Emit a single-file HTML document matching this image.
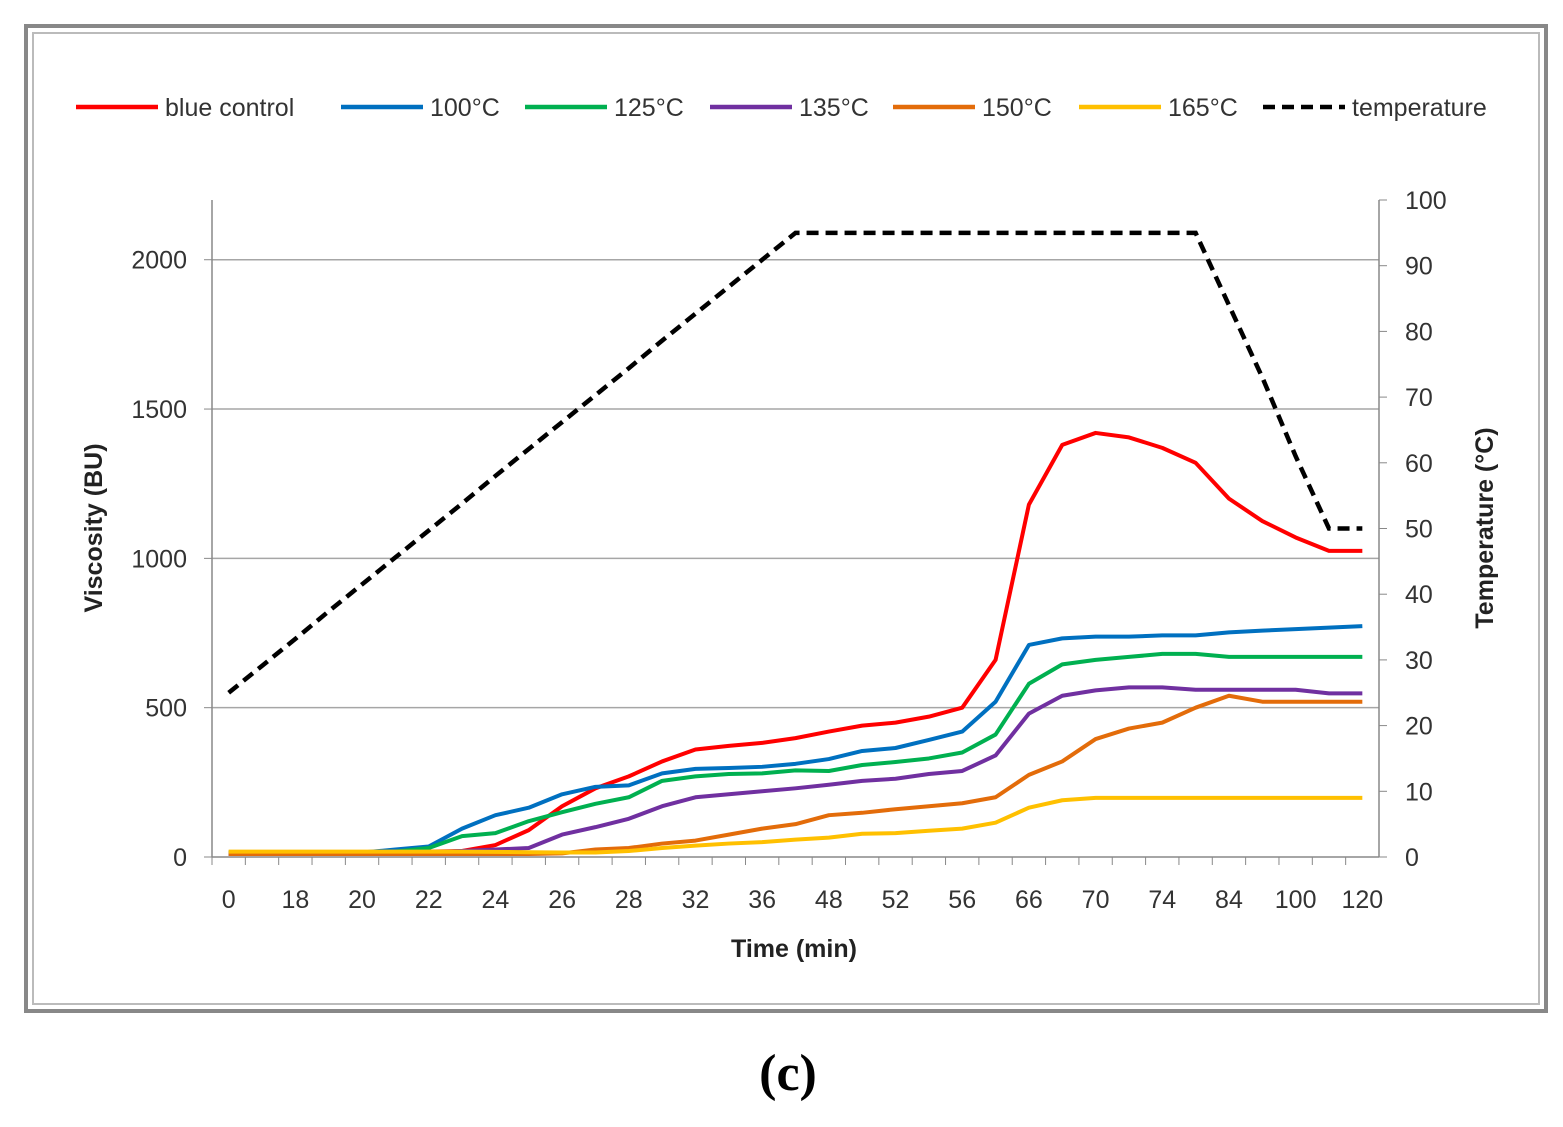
<!DOCTYPE html>
<html><head><meta charset="utf-8"><style>
body{margin:0;background:#fff;width:1563px;height:1122px;overflow:hidden}
svg text{font-family:"Liberation Sans",sans-serif}
</style></head><body>
<svg id="c" width="1563" height="1122">
<rect x="26" y="26" width="1520" height="985" fill="none" stroke="#888" stroke-width="4"/>
<rect x="33" y="33" width="1506" height="971" fill="none" stroke="#bbb" stroke-width="2"/>
<g id="grid"></g><g id="axes"></g><g id="series"></g><g id="legend"></g>
<text x="788" y="1090" text-anchor="middle" font-size="52" font-weight="bold" style="font-family:'Liberation Serif',serif">(c)</text>
</svg>
<script>
const categories=["0","","18","","20","","22","","24","","26","","28","","32","","36","","48","","52","","56","","66","","70","","74","","84","","100","","120"];
const yTicks=[0,500,1000,1500,2000];
const y2Ticks=[0,10,20,30,40,50,60,70,80,90,100];
const red=[15,15,15,15,15,15,18,20,40,90,170,230,270,320,360,372,382,398,420,440,450,470,500,660,1180,1380,1420,1405,1370,1320,1200,1125,1070,1025,1025];
const blue=[10,10,10,10,15,25,35,95,140,165,210,235,240,280,295,298,302,312,328,355,365,392,420,520,710,732,738,738,742,742,752,758,763,768,773];
const green=[15,15,15,15,15,18,30,70,80,120,150,178,200,255,270,278,280,290,288,308,318,330,350,410,580,645,660,670,680,680,670,670,670,670,670];
const purple=[10,10,10,10,10,12,15,20,25,30,75,100,128,170,200,210,220,230,242,255,262,278,288,340,480,540,558,568,568,560,560,560,560,548,548];
const orange=[10,10,10,10,10,10,10,10,10,10,12,25,30,45,55,75,95,110,140,148,160,170,180,200,275,320,395,430,450,500,540,520,520,520,520];
const yellow=[18,18,18,18,18,18,18,18,17,16,15,15,20,30,38,45,50,58,65,78,80,88,95,115,165,190,198,198,198,198,198,198,198,198,198];
const temperature=[25,29.1,33.2,37.4,41.5,45.6,49.7,53.8,58,62.1,66.2,70.3,74.4,78.6,82.7,86.8,90.9,95,95,95,95,95,95,95,95,95,95,95,95,95,84,73,61,50,50];
const seriesNames=["blue control","100°C","125°C","135°C","150°C","165°C"];
const seriesColors=["#ff0000","#0070c0","#00b050","#7030a0","#e36c0a","#ffc000"];
const seriesData=[red,blue,green,purple,orange,yellow];
const NS="http://www.w3.org/2000/svg";
const L=212,R=1379,T=200,B=857;
const step=(R-L)/categories.length;
const xS=i=>L+step*(i+0.5);
const yS=v=>B-(v/2200)*(B-T);
const y2S=v=>B-(v/100)*(B-T);
function mk(tag,attrs,parent){const e=document.createElementNS(NS,tag);for(const k in attrs)e.setAttribute(k,attrs[k]);document.getElementById(parent).appendChild(e);return e;}
yTicks.forEach(v=>{
 if(v>0){const g=mk('line',{x1:L,x2:R,y1:yS(v),y2:yS(v),stroke:'#a6a6a6','stroke-width':1.5},'grid');
 
 }
 const t=mk('text',{x:L-25,y:yS(v)+9,'text-anchor':'end','font-size':25,fill:'#333'},'axes');t.textContent=v;
 
 
 const tk=mk('line',{x1:L-8,x2:L,y1:yS(v),y2:yS(v),stroke:'#888'},'axes');
 
 
});
y2Ticks.forEach(v=>{
 const t=mk('text',{x:R+26,y:y2S(v)+9,'text-anchor':'start','font-size':25,fill:'#333'},'axes');t.textContent=v;
 
 
 const tk=mk('line',{x1:R,x2:R+8,y1:y2S(v),y2:y2S(v),stroke:'#888'},'axes');
 
 
});
let a=mk('line',{x1:L,x2:L,y1:T,y2:B,stroke:'#888','stroke-width':1.5},'axes');


a=mk('line',{x1:R,x2:R,y1:T,y2:B,stroke:'#888','stroke-width':1.5},'axes');


a=mk('line',{x1:L,x2:R,y1:B,y2:B,stroke:'#888','stroke-width':1.5},'axes');


categories.forEach((c,i)=>{
 const tk=mk('line',{x1:L+step*i,x2:L+step*i,y1:B,y2:B+8,stroke:'#888'},'axes');
 
 
 if(c!==''){const t=mk('text',{x:xS(i),y:B+51,'text-anchor':'middle','font-size':25,fill:'#333'},'axes');t.textContent=c;
 
 }
});
let t=mk('text',{x:794,y:957,'text-anchor':'middle','font-size':25,'font-weight':'bold',fill:'#222'},'axes');t.textContent='Time (min)';


t=mk('text',{x:0,y:0,transform:'translate(102,528) rotate(-90)','text-anchor':'middle','font-size':25,'font-weight':'bold',fill:'#222'},'axes');t.textContent='Viscosity (BU)';


t=mk('text',{x:0,y:0,transform:'translate(1493,528) rotate(-90)','text-anchor':'middle','font-size':25,'font-weight':'bold',fill:'#222'},'axes');t.textContent='Temperature (°C)';


seriesData.forEach((d,s)=>{
 const p=mk('polyline',{points:d.map((v,i)=>xS(i)+','+yS(v)).join(' '),fill:'none',stroke:seriesColors[s],'stroke-width':4,'stroke-linejoin':'round'},'series');
 
 
});
const tp=mk('polyline',{points:temperature.map((v,i)=>xS(i)+','+y2S(v)).join(' '),fill:'none',stroke:'#000','stroke-width':4.5,'stroke-dasharray':'12,7'},'series');


const legX=[76,341,525,710,893,1079,1263];
const names=seriesNames.concat(['temperature']);
const cols=seriesColors.concat(['#000']);
names.forEach((n,i)=>{
 const ln=mk('line',{x1:legX[i],x2:legX[i]+82,y1:107,y2:107,stroke:cols[i],'stroke-width':4.5},'legend');
 if(i===6)ln.setAttribute('stroke-dasharray','12,7');
 
 
 const tx=mk('text',{x:legX[i]+89,y:116,'font-size':25,fill:'#333'},'legend');tx.textContent=n;
 
 
});
</script>
</body></html>
